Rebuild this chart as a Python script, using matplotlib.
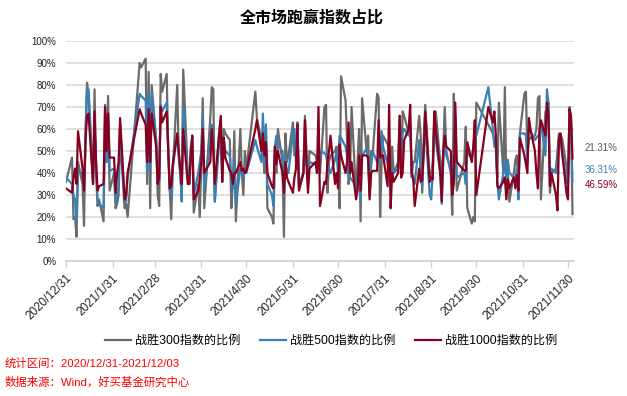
import matplotlib
matplotlib.use("Agg")
import matplotlib.pyplot as plt
import pandas as pd

plt.rcParams['font.family'] = ['Liberation Sans', 'Noto Sans CJK SC', 'DejaVu Sans']

# ---------------- data ----------------
holidays = ['2021-01-01', '2021-02-11', '2021-02-12', '2021-02-15', '2021-02-16',
            '2021-02-17', '2021-04-05', '2021-05-03', '2021-05-04', '2021-05-05',
            '2021-06-14', '2021-09-20', '2021-09-21', '2021-10-01', '2021-10-04',
            '2021-10-05', '2021-10-06', '2021-10-07']

g_dec20 = [36]
g_jan = [47, 19, 20, 11, 45, 35, 16, 60, 81, 75, 35, 78, 40, 25, 28, 18, 71, 45, 75, 32]
g_feb = [40, 24, 26, 30, 57, 24, 26, 20, 90, 88, 92, 35, 86, 24, 80]
g_mar = [55, 30, 25, 85, 77, 85, 50, 33, 19, 40, 80, 48, 40, 30, 87, 40, 35, 50, 57, 22, 35, 20, 45]
g_apr = [74, 24, 65, 79, 78, 27, 60, 64, 36, 60, 58, 55, 24, 35, 59, 18, 60, 40, 30, 50, 42]
g_may = [77, 65, 55, 50, 40, 62, 24, 20, 17, 48, 40, 60, 45, 11, 58, 45, 48, 63]
g_jun = [48, 50, 63, 33, 40, 66, 50, 34, 50, 48, 45, 46, 40, 70, 71, 31, 45, 48, 50, 52, 45]
g_jul = [24, 84, 73, 55, 35, 40, 70, 30, 45, 60, 18, 74, 50, 57, 30, 50, 48, 76, 74, 20, 45, 57]
g_aug = [53, 50, 30, 52, 40, 45, 66, 38, 68, 66, 58, 62, 38, 45, 45, 66, 57, 31, 55, 71, 36, 40]
g_sep = [45, 64, 68, 45, 38, 50, 70, 50, 40, 21, 76, 58, 32, 45, 61, 24, 17, 20, 18, 72]
g_oct = [62, 58, 55, 52, 38, 72, 40, 79, 32, 40, 27, 40, 46, 48, 31, 58]
g_nov = [76, 77, 50, 55, 56, 57, 60, 74, 75, 28, 68, 68, 72, 31, 40, 42, 50, 58, 57, 56, 43, 37]
g_dec = [70, 65, 21.31]

b_dec20 = [38]
b_jan = [35, 30, 28, 18, 40, 40, 33, 55, 79, 78, 38, 60, 45, 27, 26, 24, 65, 45, 67, 41]
b_feb = [42, 27, 30, 34, 62, 27, 27, 38, 76, 75, 73, 40, 77, 42, 76]
b_mar = [55, 40, 36, 71, 68, 72, 52, 32, 30, 42, 58, 48, 40, 27, 70, 38, 35, 52, 55, 30, 40, 45, 50]
b_apr = [66, 33, 55, 62, 57, 27, 55, 56, 36, 55, 50, 48, 35, 33, 45, 26, 42, 40, 38, 42, 40]
b_may = [55, 52, 45, 67, 45, 62, 35, 30, 25, 52, 57, 52, 50, 42, 48, 40, 40, 58]
b_jun = [60, 45, 58, 35, 40, 60, 45, 38, 45, 44, 42, 45, 50, 49, 48, 45, 42, 40, 46, 50, 40]
b_jul = [57, 56, 52, 48, 40, 38, 37, 34, 38, 45, 27, 48, 51, 46, 30, 43, 50, 45, 46, 45, 59, 52]
b_aug = [44, 42, 38, 42, 40, 42, 60, 52, 58, 60, 57, 62, 40, 37, 35, 55, 38, 34, 50, 62, 30, 28]
b_sep = [40, 62, 55, 40, 26, 45, 58, 48, 42, 37, 45, 66, 38, 40, 35, 50, 46, 52, 58, 57]
b_oct = [79, 60, 52, 52, 36, 28, 40, 45, 37, 46, 40, 38, 37, 42, 28, 58]
b_nov = [58, 57, 45, 62, 59, 55, 56, 57, 57, 63, 48, 78, 72, 34, 42, 40, 43, 55, 55, 50, 36, 35]
b_dec = [65, 62, 36.31]

r_dec20 = [33]
r_jan = [31, 38, 42, 35, 59, 42, 32, 55, 66, 67, 35, 68, 45, 32, 34, 35, 70, 50, 67, 47]
r_feb = [47, 31, 40, 45, 65, 28, 30, 40, 69, 67, 62, 45, 69, 45, 67]
r_mar = [52, 35, 38, 70, 63, 68, 50, 33, 34, 44, 58, 50, 42, 35, 60, 35, 35, 48, 57, 28, 32, 38, 45]
r_apr = [60, 40, 45, 60, 50, 35, 58, 66, 36, 56, 47, 41, 40, 35, 40, 40, 45, 41, 42, 40, 41]
r_may = [60, 64, 50, 58, 48, 54, 40, 34, 33, 52, 44, 50, 40, 31, 45, 38, 36, 31]
r_jun = [38, 42, 62, 32, 40, 64, 45, 31, 42, 45, 40, 70, 25, 36, 35, 45, 50, 57, 35, 40, 33]
r_jul = [53, 48, 40, 45, 63, 40, 45, 28, 32, 48, 32, 48, 48, 47, 28, 40, 41, 41, 64, 47, 48, 48]
r_aug = [34, 71, 24, 40, 36, 40, 66, 38, 40, 55, 60, 71, 40, 38, 25, 42, 36, 37, 50, 68, 36, 38]
r_sep = [37, 68, 60, 40, 27, 50, 57, 52, 50, 30, 35, 72, 45, 41, 41, 54, 45, 52, 64, 30]
r_oct = [70, 63, 68, 57, 34, 33, 36, 38, 28, 37, 33, 38, 33, 39, 32, 56]
r_nov = [48, 44, 40, 65, 60, 50, 40, 33, 60, 64, 57, 72, 66, 34, 40, 30, 23, 56, 58, 50, 31, 28]
r_dec = [69, 66, 46.59]

series_names = ['战胜300指数的比例', '战胜500指数的比例', '战胜1000指数的比例']
end_labels = ['21.31%', '36.31%', '46.59%']
tick_dates = ['2020-12-31', '2021-01-31', '2021-02-28', '2021-03-31', '2021-04-30',
              '2021-05-31', '2021-06-30', '2021-07-31', '2021-08-31', '2021-09-30',
              '2021-10-31', '2021-11-30']
tick_labels = ['2020/12/31', '2021/1/31', '2021/2/28', '2021/3/31', '2021/4/30',
               '2021/5/31', '2021/6/30', '2021/7/31', '2021/8/31', '2021/9/30',
               '2021/10/31', '2021/11/30']
ytick_vals = list(range(0, 101, 10))

# ---------------- assemble ----------------
dates = pd.bdate_range('2020-12-31', '2021-12-03')
dates = dates[~dates.isin(pd.to_datetime(holidays))]

g = g_dec20 + g_jan + g_feb + g_mar + g_apr + g_may + g_jun + g_jul + g_aug + g_sep + g_oct + g_nov + g_dec
b = b_dec20 + b_jan + b_feb + b_mar + b_apr + b_may + b_jun + b_jul + b_aug + b_sep + b_oct + b_nov + b_dec
r = r_dec20 + r_jan + r_feb + r_mar + r_apr + r_may + r_jun + r_jul + r_aug + r_sep + r_oct + r_nov + r_dec
n = min(len(dates), len(g), len(b), len(r))
dates = dates[:n]; g = g[:n]; b = b[:n]; r = r[:n]

colors = ['#6b6b6b', '#3a80b4', '#870020']
label_colors = ['#595959', '#3a80b4', '#870020']

W, H = 627, 396
fig = plt.figure(figsize=(W / 100, H / 100), dpi=100)
ax = fig.add_axes([66 / W, 1 - 261 / H, (574 - 66) / W, (261 - 41) / H])

lines = []
for vals, c, name in zip([g, b, r], colors, series_names):
    ln, = ax.plot(dates, vals, color=c, lw=1.6, label=name)
    lines.append(ln)

ax.set_ylim(0, 100)
ax.set_xlim(pd.Timestamp('2020-12-31'), pd.Timestamp('2021-12-04'))
ax.set_yticks(ytick_vals)
ax.set_yticklabels([f'{v}%' for v in ytick_vals], fontsize=7, color='#222222')
ax.grid(axis='y', color='#d9d9d9', lw=1.2)
ax.set_axisbelow(True)
for s in ['top', 'right', 'left']:
    ax.spines[s].set_visible(False)
ax.spines['bottom'].set_color('#d0d0d0')
ax.spines['bottom'].set_linewidth(1.2)
ax.tick_params(axis='y', length=0, pad=7)
ax.set_xticks(pd.to_datetime(tick_dates))
ax.set_xticklabels(tick_labels, rotation=45, ha='right', rotation_mode='anchor',
                   fontsize=8.5, color='#222222')
ax.tick_params(axis='x', length=4, color='#d0d0d0', width=1, pad=4)

fig.text(312 / W, 1 - 18 / H, '全市场跑赢指数占比', ha='center', va='center',
         fontsize=11.5, fontweight='bold', family=['Noto Sans CJK SC'])

label_y = [148, 170, 185]
for t, c, y in zip(end_labels, label_colors, label_y):
    fig.text(585 / W, 1 - y / H, t, ha='left', va='center', fontsize=7, color=c)

fig.legend(handles=lines, loc='center', bbox_to_anchor=(331 / W, 1 - 341 / H), ncol=3,
           frameon=False, handlelength=2.2, handletextpad=0.3, columnspacing=1.6,
           prop={'family': ['Liberation Sans', 'Noto Sans CJK SC'], 'size': 8.7})

fig.text(5 / W, 1 - 363 / H, '统计区间：2020/12/31-2021/12/03', ha='left', va='center',
         fontsize=8.2, color='#ff0000')
fig.text(5 / W, 1 - 382 / H, '数据来源：Wind，好买基金研究中心', ha='left', va='center',
         fontsize=8.2, color='#ff0000')

fig.savefig('out.png', dpi=100)
